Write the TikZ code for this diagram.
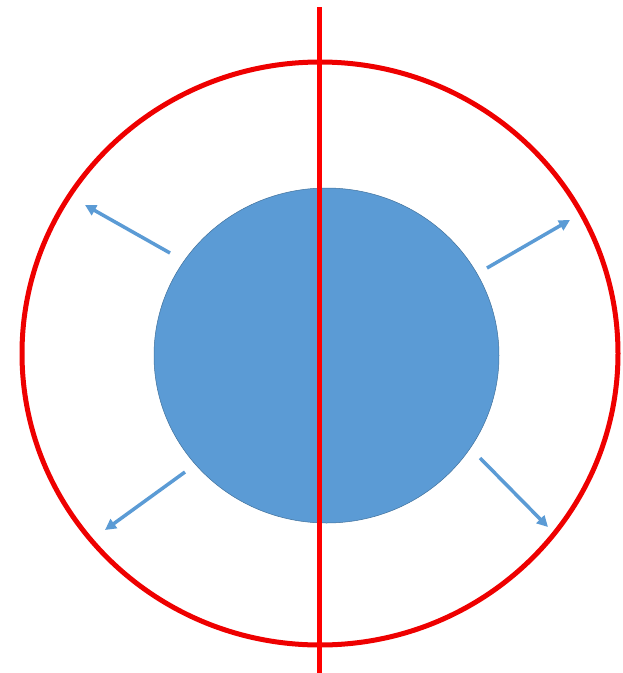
\documentclass[tikz,border=0pt]{standalone}
\usetikzlibrary{arrows.meta,shapes.geometric}
\definecolor{ringred}{RGB}{238,0,0}
\definecolor{lineRed}{RGB}{255,0,0}
\definecolor{ballblue}{RGB}{91,155,213}
\definecolor{balledge}{RGB}{65,113,156}
\tikzset{
  ring/.style={ellipse, draw=ringred, line width=5pt, minimum width=596pt, minimum height=583pt, inner sep=0pt, outer sep=0pt},
  ball/.style={ellipse, fill=ballblue, draw=balledge, line width=0.5pt, minimum width=345pt, minimum height=335pt, inner sep=0pt},
  push/.style={draw=ballblue, line width=3.5pt, -{Triangle[length=11pt,width=11pt]}},
  axis/.style={draw=lineRed, line width=4.5pt}
}
\begin{document}
\begin{tikzpicture}[x=1pt,y=-1pt]
\useasboundingbox (0,0) rectangle (623,673);
\node[ring] (outer) at (320,353.5) {};
\node[ball] (core) at (326.5,355.5) {};
\coordinate (a1s) at (170,253); \coordinate (a1e) at (85,205);
\coordinate (a2s) at (487,268); \coordinate (a2e) at (570,220);
\coordinate (a3s) at (185,472); \coordinate (a3e) at (105,530);
\coordinate (a4s) at (480,458); \coordinate (a4e) at (548,527);
\draw[push] (a1s) -- (a1e);
\draw[push] (a2s) -- (a2e);
\draw[push] (a3s) -- (a3e);
\draw[push] (a4s) -- (a4e);
\coordinate (ltop) at (319.5,7);
\coordinate (lbot) at (319.5,673);
\draw[axis] (ltop) -- (lbot);
\end{tikzpicture}
\end{document}
